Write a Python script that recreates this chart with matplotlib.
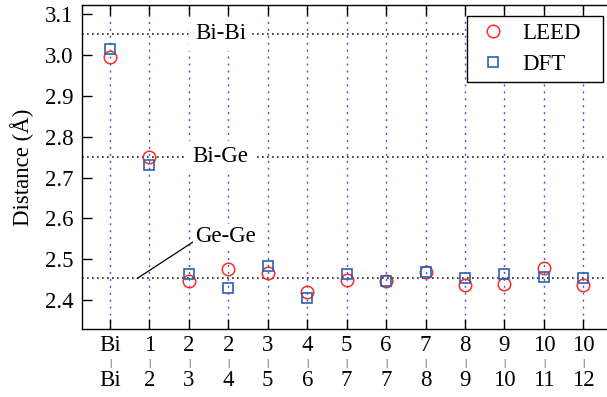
import matplotlib.pyplot as plt
import matplotlib.transforms as mtransforms

plt.rcParams['font.family'] = 'serif'
plt.rcParams['font.serif'] = ['Liberation Serif', 'Times New Roman', 'DejaVu Serif']
plt.rcParams['mathtext.fontset'] = 'stix'

top_labels = ["Bi", "1", "2", "2", "3", "4", "5", "6", "7", "8", "9", "10", "10"]
bottom_labels = ["Bi", "2", "3", "4", "5", "6", "7", "7", "8", "9", "10", "11", "12"]
leed = [2.994, 2.751, 2.446, 2.475, 2.467, 2.420, 2.449, 2.446, 2.469, 2.438, 2.440, 2.478, 2.436]
dft = [3.014, 2.731, 2.465, 2.430, 2.484, 2.404, 2.464, 2.447, 2.469, 2.454, 2.464, 2.456, 2.455]
ref_names = ["Bi-Bi", "Bi-Ge", "Ge-Ge"]
ref_values = [3.052, 2.751, 2.453]

x = list(range(len(top_labels)))
fs = 16.5

fig = plt.figure(figsize=(6.07, 3.97), dpi=100)
ax = fig.add_axes([0.135, 0.171, 0.865, 0.816])

for xi in x:
    ax.axvline(xi, color="#4060c0", lw=1.0, ls=(0, (1.5, 3.5)), zorder=1)

for v in ref_values:
    ax.axhline(v, color="#222222", lw=1.2, ls=(0, (1, 2)), zorder=1)

ax.text(2.8, ref_values[0], ref_names[0], fontsize=fs, ha="center", va="center",
        backgroundcolor="white", zorder=2)
ax.text(2.8, ref_values[1], ref_names[1], fontsize=fs, ha="center", va="center",
        backgroundcolor="white", zorder=2)
ax.annotate(ref_names[2], xy=(0.69, ref_values[2]), xytext=(2.93, 2.556),
            fontsize=fs, ha="center", va="center", zorder=2,
            bbox=dict(boxstyle="square,pad=0.1", fc="white", ec="none"),
            arrowprops=dict(arrowstyle="-", color="black", lw=0.9,
                            shrinkA=0, shrinkB=0, relpos=(0.0, 0.3)))

ax.plot(x, leed, "o", ms=9, mfc="none", mec="#ff2a2a", mew=1.1, label="LEED", zorder=3)
ax.plot(x, dft, "s", ms=7, mfc="none", mec="#2f5fb0", mew=1.2, label="DFT", zorder=3)

ax.set_xlim(-0.71, 12.6)
ax.set_ylim(2.329, 3.122)
ax.set_yticks([2.4, 2.5, 2.6, 2.7, 2.8, 2.9, 3.0, 3.1])
ax.set_yticklabels(["2.4", "2.5", "2.6", "2.7", "2.8", "2.9", "3.0", "3.1"])
ax.set_xticks(x)
ax.set_xticklabels(top_labels)
ax.tick_params(axis="both", direction="in", labelsize=fs, length=7, width=1.0,
               top=True, right=False)
ax.tick_params(axis="x", pad=4)
ax.tick_params(axis="y", pad=6)
ax.set_ylabel("Distance (Å)", fontsize=fs, labelpad=8)

ax.spines["right"].set_visible(False)
for s in ["left", "bottom", "top"]:
    ax.spines[s].set_linewidth(1.0)

trans = mtransforms.blended_transform_factory(ax.transData, ax.transAxes)
for xi, lab in zip(x, bottom_labels):
    ax.text(xi, -0.105, "|", transform=trans, fontsize=8, ha="center", va="center",
            color="black", clip_on=False)
    ax.text(xi, -0.16, lab, transform=trans, fontsize=fs, ha="center", va="center",
            clip_on=False)

leg = ax.legend(loc="upper left", mode="expand", fontsize=fs, frameon=True, fancybox=False,
                edgecolor="black", framealpha=1, borderaxespad=0.0,
                handletextpad=0.4, handlelength=1.7, borderpad=0.3, labelspacing=0.45,
                bbox_to_anchor=(0.733, 0.5, 0.259, 0.466))
leg.get_frame().set_linewidth(1.0)

fig.savefig("out.png", dpi=100)
